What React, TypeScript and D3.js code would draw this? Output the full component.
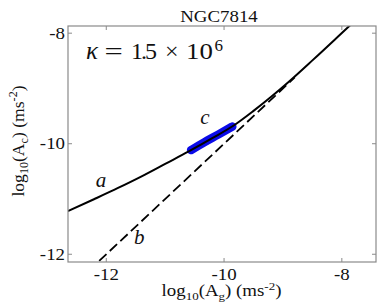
import React from "react";
import * as d3 from "d3";

// ---- data ----
const curveX = [-12.65, -12.2, -11.8, -11.4, -11.0, -10.6, -10.2, -9.85, -9.5, -9.2, -8.9, -8.5, -8.0, -7.5];
const curveY = [-11.22, -11.0, -10.8, -10.59, -10.365, -10.14, -9.9, -9.68, -9.405, -9.15, -8.878, -8.492, -7.997, -7.499];
const obsX = [-10.56, -10.33, -10.1, -9.86];
const obsY = [-10.115, -9.97, -9.835, -9.69];
const lineBX = [-12.3, -8.8];
const lineBY = [-12.3, -8.8];
const xTicks = [-12, -10, -8];
const yTicks = [-8, -10, -12];
const labelNames = ["a", "b", "c"];
const labelX = [-12.09, -11.44, -10.324];
const labelY = [-10.78, -11.81, -9.644];
const title = "NGC7814";

const W = 380, H = 305;
const L = 68, R = 376, T = 26, B = 262;
const SERIF = "Liberation Serif, Tinos, DejaVu Serif, serif";
const SX = 1.18;

export default function App() {
  const x = d3.scaleLinear().domain([-12.65, -7.42]).range([L, R]);
  const y = d3.scaleLinear().domain([-12.14, -7.87]).range([B, T]);
  const curve = d3.line<number>().x((d, i) => x(curveX[i])).y((d, i) => y(curveY[i])).curve(d3.curveMonotoneX);
  const obs = d3.line<number>().x((d, i) => x(obsX[i])).y((d, i) => y(obsY[i])).curve(d3.curveMonotoneX);
  const bLine = d3.line<number>().x((d, i) => x(lineBX[i])).y((d, i) => y(lineBY[i]));
  const axisColor = "#8a8a8a";
  const tl = 4;
  const ts = { fontFamily: SERIF };
  const kb = 58.5;

  return (
    <svg width={W} height={H} style={{ position: "absolute", left: 0, top: 0, background: "#fff" }}>
      <defs>
        <clipPath id="pc"><rect x={L} y={T} width={R - L} height={B - T} /></clipPath>
      </defs>
      <rect x={0} y={0} width={W} height={H} fill="#fff" />
      <g clipPath="url(#pc)">
        <path d={bLine(lineBX) || ""} fill="none" stroke="#000" strokeWidth={1.8} strokeDasharray="10,4.5" />
        <path d={obs(obsX) || ""} fill="none" stroke="#0a0ae8" strokeWidth={8.5} strokeLinecap="round" />
        <path d={curve(curveX) || ""} fill="none" stroke="#000" strokeWidth={2} />
      </g>
      <rect x={L} y={T} width={R - L} height={B - T} fill="none" stroke={axisColor} strokeWidth={1.2} />
      {xTicks.map((t) => (
        <g key={"x" + t}>
          <line x1={x(t)} x2={x(t)} y1={B} y2={B - tl} stroke={axisColor} />
          <line x1={x(t)} x2={x(t)} y1={T} y2={T + tl} stroke={axisColor} />
          <text style={ts} transform={`translate(${x(t)},${280}) scale(${SX},1)`} textAnchor="middle" fontSize={16} fill="#111">{String(t)}</text>
        </g>
      ))}
      {yTicks.map((t) => (
        <g key={"y" + t}>
          <line x1={L} x2={L + tl} y1={y(t)} y2={y(t)} stroke={axisColor} />
          <line x1={R} x2={R - tl} y1={y(t)} y2={y(t)} stroke={axisColor} />
          <text style={ts} transform={`translate(${65},${y(t) + 5.5}) scale(${SX},1)`} textAnchor="end" fontSize={16} fill="#111">{String(t)}</text>
        </g>
      ))}
      <text style={ts} transform={`translate(219,21.5) scale(${SX},1)`} textAnchor="middle" fontSize={16} fill="#111">{title}</text>
      <text style={ts} transform={`translate(221.5,296) scale(${SX},1)`} textAnchor="middle" fontSize={16} fill="#111">
        <tspan>log</tspan>
        <tspan fontSize={11} dy={4}>10</tspan>
        <tspan dy={-4}>(A</tspan>
        <tspan fontSize={11} dy={4}>g</tspan>
        <tspan dy={-4}>) (ms</tspan>
        <tspan fontSize={11} dy={-6}>-2</tspan>
        <tspan dy={6}>)</tspan>
      </text>
      <text style={ts} transform={`translate(24,141) rotate(-90) scale(1.1,1.1)`} textAnchor="middle" fontSize={16} fill="#111">
        <tspan>log</tspan>
        <tspan fontSize={11} dy={4}>10</tspan>
        <tspan dy={-4}>(A</tspan>
        <tspan fontSize={11} dy={4}>c</tspan>
        <tspan dy={-4}>) (ms</tspan>
        <tspan fontSize={11} dy={-6}>-2</tspan>
        <tspan dy={6}>)</tspan>
      </text>
      <g style={ts} fill="#111">
        <text x={86} y={kb} fontSize={25} fontStyle="italic">κ</text>
        <text transform={`translate(104.5,${kb}) scale(1.35,1)`} fontSize={24}>=</text>
        <text x={131} y={kb} fontSize={24} letterSpacing={-2}>1.5</text>
        <text x={165} y={kb} fontSize={24}>×</text>
        <text transform={`translate(186,${kb}) scale(1.12,1)`} fontSize={24}>10</text>
        <text x={214.5} y={50.5} fontSize={17}>6</text>
      </g>
      {labelNames.map((n, i) => (
        <text key={n} style={ts} x={x(labelX[i])} y={y(labelY[i])} textAnchor="middle" fontStyle="italic" fontSize={21} fill="#111">{n}</text>
      ))}
    </svg>
  );
}
